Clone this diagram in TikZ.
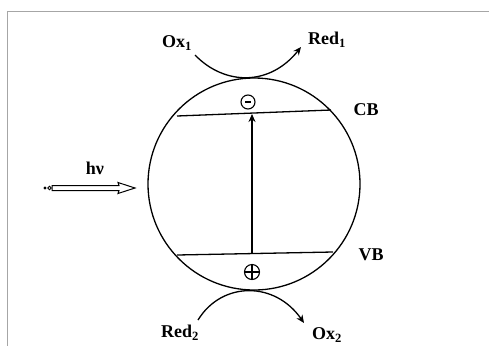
\documentclass[tikz,border=0pt]{standalone}
\usepackage{fontspec}
\setmainfont{Liberation Serif}
\usetikzlibrary{arrows.meta}
\begin{document}
\begin{tikzpicture}[x=1pt,y=-1pt,
  lbl/.style={font=\fontsize{18}{21}\selectfont\bfseries, inner sep=0pt},
  line/.style={line width=1.3pt, black},
  arr/.style={line, -{Stealth[length=8pt,width=7pt]}}]
\useasboundingbox (0,0) rectangle (489,346);
\draw[gray!70, line width=1pt] (489,11) -- (7,11) -- (7,346);
% particle
\node[draw, line width=1.3pt, circle, minimum size=212pt, inner sep=0pt] (p) at (254,184) {};
% bands
\coordinate (cbL) at (177,116);
\coordinate (cbR) at (331,110);
\coordinate (vbL) at (177,255);
\coordinate (vbR) at (333,252);
\draw[line] (cbL) -- (cbR);
\draw[line] (vbL) -- (vbR);
\coordinate (vbm) at (252,254);
\coordinate (cbm) at (252,114);
\draw[arr] (vbm) -- (cbm);
% charges
\node[draw, line width=1.1pt, circle, minimum size=14pt, inner sep=0pt] (em) at (248,102) {};
\draw[line width=1.3pt] ([xshift=-3pt]em.center) -- ([xshift=3pt]em.center);
\node[draw, line width=1.1pt, circle, minimum size=15pt, inner sep=0pt] (hp) at (252,272) {};
\draw[line width=1.1pt] (hp.west) -- (hp.east) (hp.north) -- (hp.south);
% labels
\node[lbl] (cb) at (366,110) {CB};
\node[lbl] (vb) at (371,255) {VB};
\node[lbl] (ox1) at (177,43) {Ox\textsubscript{1}};
\node[lbl] (red1) at (327,40) {Red\textsubscript{1}};
\node[lbl] (red2) at (180,333) {Red\textsubscript{2}};
\node[lbl] (ox2) at (327,335) {Ox\textsubscript{2}};
\node[lbl] (hv) at (95,168) {hν};
% redox arcs
\coordinate (t1) at (195,55);
\coordinate (t2) at (301,47);
\draw[arr] (t1) .. controls (225,86) and (270,86) .. (t2);
\coordinate (b1) at (198,320);
\coordinate (b2) at (304,323);
\draw[arr] (b1) .. controls (222,281) and (275,281) .. (b2);
% light arrow
\coordinate (la) at (52,188);
\coordinate (lb) at (135,188);
\draw[line width=1pt] (la) ++(0,-2.5) -- (119,185.5) -- (118,182.5) -- (lb) -- (118,193.5) -- (119,190.5) -- (52,190.5) -- cycle;
\fill (45,188) circle (1.7pt);
\draw[line width=0.9pt] (49.5,188) circle (1.8pt);
\end{tikzpicture}
\end{document}
